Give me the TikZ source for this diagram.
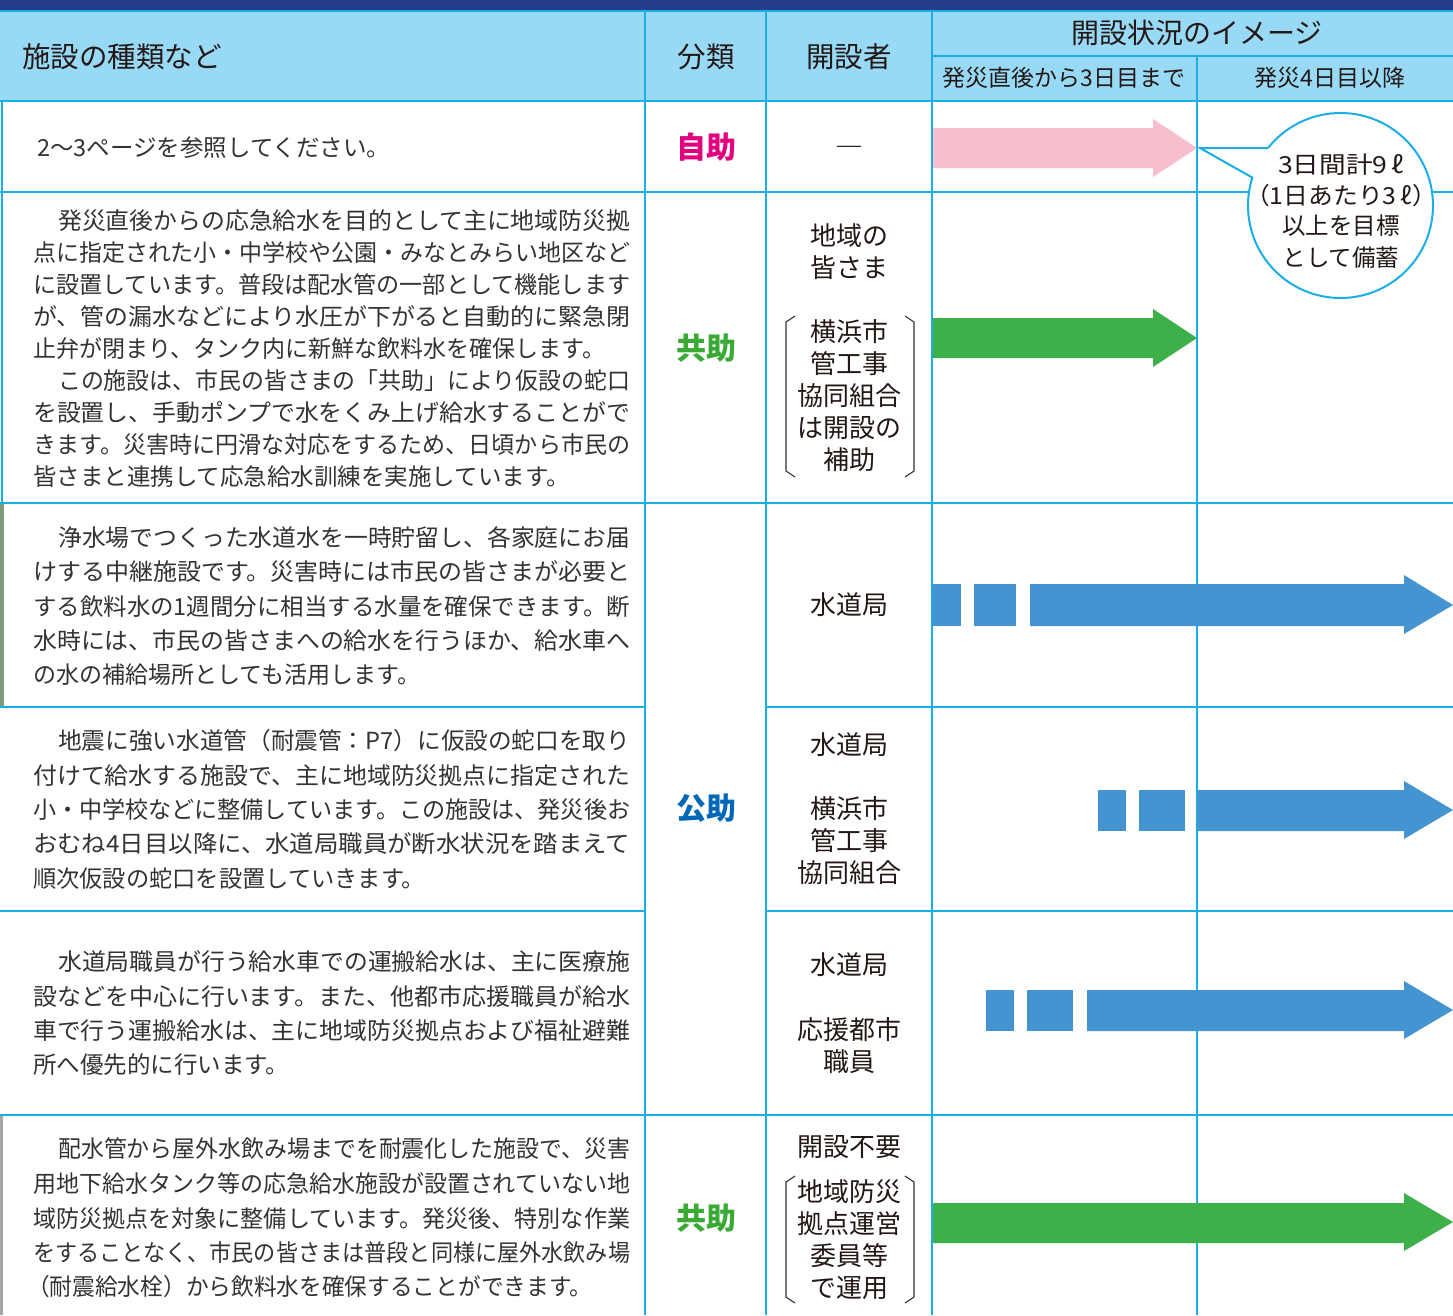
\documentclass[tikz,border=0pt]{standalone}
\usepackage{fontspec}
\setmainfont{Noto Sans CJK JP}
\usepackage{graphicx}
\definecolor{topnavy}{HTML}{243C8A}
\definecolor{hdrfill}{HTML}{98DAF6}
\definecolor{rulecol}{HTML}{1AAEE6}
\definecolor{txtcol}{HTML}{333333}
\definecolor{hdrtxt}{HTML}{231815}
\definecolor{pinkarrow}{HTML}{F7BFCD}
\definecolor{greenarrow}{HTML}{3EB049}
\definecolor{bluearrow}{HTML}{4394D0}
\definecolor{jijocol}{HTML}{E2007F}
\definecolor{kyojocol}{HTML}{3AAA35}
\definecolor{kojocol}{HTML}{0068B7}
\tikzset{
  gridline/.style={draw=rulecol, line width=2pt},
  bodytxt/.style={anchor=base west, inner sep=0pt, text=txtcol, font=\fontsize{23.5}{23.5}\selectfont},
  ctrtxt/.style={anchor=base, inner sep=0pt, text=hdrtxt},
  bracketline/.style={draw=txtcol, line width=1.1pt},
}
% full line stretched to width: name, x, centre y, width, text
\newcommand\bodyfull[5]{\node[bodytxt] (#1) at (#2,#3+9) {\resizebox{#4pt}{\height}{#5}};}
% natural line: name, x, centre y, text
\newcommand\bodynat[4]{\node[bodytxt] (#1) at (#2,#3+9) {#4};}
% centred text: name, x, centre y, size, text
\newcommand\ctxt[5]{\node[ctrtxt, font=\fontsize{#4}{#4}\selectfont] (#1) at (#2,#3+0.38*#4) {#5};}
\begin{document}
\begin{tikzpicture}[x=1pt,y=-1pt]
\useasboundingbox (0,0) rectangle (1453,1315);
\fill[white] (0,0) rectangle (1453,1315);
% top band and header
\fill[topnavy] (0,0) rectangle (1453,10.5);
\fill[hdrfill] (0,11) rectangle (1453,101);
% photo edges at the left
\fill[gray!60!green!50!black!60] (0,504) rectangle (4,706);
\fill[gray!70] (0,1116) rectangle (3,1315);
% grid
\draw[gridline] (0,11) -- (1453,11);
\draw[gridline] (0,101) -- (1453,101);
\draw[gridline] (932,56) -- (1453,56);
\draw[gridline] (645,11) -- (645,1315);
\draw[gridline] (766,11) -- (766,1315);
\draw[gridline] (932,11) -- (932,1315);
\draw[gridline] (1197,56) -- (1197,1315);
\draw[gridline] (0,192) -- (1453,192);
\draw[gridline] (0,503) -- (1453,503);
\draw[gridline] (0,707) -- (645,707);
\draw[gridline] (766,707) -- (1453,707);
\draw[gridline] (0,911) -- (645,911);
\draw[gridline] (766,911) -- (1453,911);
\draw[gridline] (0,1115) -- (1453,1115);
\draw[gridline] (2,101) -- (2,503);

% header texts
\node[anchor=base west, inner sep=0pt, text=hdrtxt, font=\fontsize{28.5}{28.5}\selectfont] (hkind) at (22,57+10.8) {施設の種類など};
\ctxt{hcls}{706}{57}{28.5}{分類}
\ctxt{hopen}{849}{57}{28.5}{開設者}
\ctxt{himg}{1197}{33}{28}{開設状況のイメージ}
\ctxt{hsub1}{1064}{78}{23}{発災直後から3日目まで}
\ctxt{hsub2}{1330}{78}{23}{発災4日目以降}

% classification
\ctxt{c1}{706}{147}{30}{\textcolor{jijocol}{\bfseries 自助}}
\ctxt{c2}{706}{348}{30}{\textcolor{kyojocol}{\bfseries 共助}}
\ctxt{c3}{706}{808}{30}{\textcolor{kojocol}{\bfseries 公助}}
\ctxt{c4}{706}{1218}{30}{\textcolor{kyojocol}{\bfseries 共助}}

% openers
\ctxt{o1}{849}{147}{28}{―}
\ctxt{o2a}{849}{236}{26}{地域の}
\ctxt{o2b}{849}{268}{26}{皆さま}
\ctxt{o2c}{849}{332}{26}{横浜市}
\ctxt{o2d}{849}{364}{26}{管工事}
\ctxt{o2e}{849}{396}{26}{協同組合}
\ctxt{o2f}{849}{428}{26}{は開設の}
\ctxt{o2g}{849}{460}{26}{補助}
\ctxt{o3}{849}{605}{26}{水道局}
\ctxt{o4a}{849}{745}{26}{水道局}
\ctxt{o4b}{849}{809}{26}{横浜市}
\ctxt{o4c}{849}{841}{26}{管工事}
\ctxt{o4d}{849}{873}{26}{協同組合}
\ctxt{o5a}{849}{965}{26}{水道局}
\ctxt{o5b}{849}{1030}{26}{応援都市}
\ctxt{o5c}{849}{1062}{26}{職員}
\ctxt{o6a}{849}{1147}{26}{開設不要}
\ctxt{o6b}{849}{1192}{26}{地域防災}
\ctxt{o6c}{849}{1224}{26}{拠点運営}
\ctxt{o6d}{849}{1256}{26}{委員等}
\ctxt{o6e}{849}{1288}{26}{で運用}
% brackets
\draw[bracketline] (795,316) -- (786,322) -- (786,471) -- (795,477);
\draw[bracketline] (905,316) -- (914,322) -- (914,471) -- (905,477);
\draw[bracketline] (795,1176) -- (786,1182) -- (786,1297) -- (795,1303);
\draw[bracketline] (905,1176) -- (914,1182) -- (914,1297) -- (905,1303);

% body texts
\bodynat{r1}{37}{147}{2〜3ページを参照してください。}

\bodyfull{r2a}{58}{220}{572}{発災直後からの応急給水を目的として主に地域防災拠}
\bodyfull{r2b}{33}{252}{597}{点に指定された小・中学校や公園・みなとみらい地区など}
\bodyfull{r2c}{33}{284}{597}{に設置しています。普段は配水管の一部として機能します}
\bodyfull{r2d}{33}{316}{597}{が、管の漏水などにより水圧が下がると自動的に緊急閉}
\bodyfull{r2e}{33}{348}{572}{止弁が閉まり、タンク内に新鮮な飲料水を確保します。}
\bodyfull{r2f}{58}{380}{572}{この施設は、市民の皆さまの「共助」により仮設の蛇口}
\bodyfull{r2g}{33}{412}{597}{を設置し、手動ポンプで水をくみ上げ給水することがで}
\bodyfull{r2h}{33}{444}{597}{きます。災害時に円滑な対応をするため、日頃から市民の}
\bodynat{r2i}{33}{476}{皆さまと連携して応急給水訓練を実施しています。}

\bodyfull{r3a}{58}{537}{572}{浄水場でつくった水道水を一時貯留し、各家庭にお届}
\bodyfull{r3b}{33}{571}{597}{けする中継施設です。災害時には市民の皆さまが必要と}
\bodyfull{r3c}{33}{606}{597}{する飲料水の1週間分に相当する水量を確保できます。断}
\bodyfull{r3d}{33}{640}{597}{水時には、市民の皆さまへの給水を行うほか、給水車へ}
\bodyfull{r3e}{33}{674}{387}{の水の補給場所としても活用します。}

\bodyfull{r4a}{58}{740}{572}{地震に強い水道管（耐震管：P7）に仮設の蛇口を取り}
\bodyfull{r4b}{33}{775}{597}{付けて給水する施設で、主に地域防災拠点に指定された}
\bodyfull{r4c}{33}{809}{597}{小・中学校などに整備しています。この施設は、発災後お}
\bodyfull{r4d}{33}{843}{597}{おむね4日目以降に、水道局職員が断水状況を踏まえて}
\bodyfull{r4e}{33}{878}{392}{順次仮設の蛇口を設置していきます。}

\bodyfull{r5a}{58}{961}{572}{水道局職員が行う給水車での運搬給水は、主に医療施}
\bodyfull{r5b}{33}{996}{597}{設などを中心に行います。また、他都市応援職員が給水}
\bodyfull{r5c}{33}{1030}{597}{車で行う運搬給水は、主に地域防災拠点および福祉避難}
\bodynat{r5d}{33}{1064}{所へ優先的に行います。}

\bodyfull{r6a}{58}{1148}{572}{配水管から屋外水飲み場までを耐震化した施設で、災害}
\bodyfull{r6b}{33}{1183}{597}{用地下給水タンク等の応急給水施設が設置されていない地}
\bodyfull{r6c}{33}{1218}{597}{域防災拠点を対象に整備しています。発災後、特別な作業}
\bodyfull{r6d}{33}{1252}{597}{をすることなく、市民の皆さまは普段と同様に屋外水飲み場}
\bodyfull{r6e}{27}{1286}{565}{（耐震給水栓）から飲料水を確保することができます。}

% arrows
\fill[pinkarrow] (933,128) -- (1153,128) -- (1153,119) -- (1197,148) -- (1153,177) -- (1153,168) -- (933,168) -- cycle;
\fill[greenarrow] (933,318) -- (1153,318) -- (1153,309) -- (1197,338) -- (1153,367) -- (1153,358) -- (933,358) -- cycle;
% row 3
\fill[bluearrow] (933,584) rectangle (961,626);
\fill[bluearrow] (974,584) rectangle (1016,626);
\fill[bluearrow] (1030,584) -- (1404,584) -- (1404,575) -- (1453,605) -- (1404,634) -- (1404,626) -- (1030,626) -- cycle;
% row 4
\fill[bluearrow] (1098,790) rectangle (1126,831);
\fill[bluearrow] (1139,790) rectangle (1185,831);
\fill[bluearrow] (1197,790) -- (1404,790) -- (1404,781) -- (1453,810) -- (1404,839) -- (1404,831) -- (1197,831) -- cycle;
% row 5
\fill[bluearrow] (986,990) rectangle (1014,1031);
\fill[bluearrow] (1027,990) rectangle (1073,1031);
\fill[bluearrow] (1087,990) -- (1404,990) -- (1404,981) -- (1453,1010) -- (1404,1039) -- (1404,1031) -- (1087,1031) -- cycle;
% row 6
\fill[greenarrow] (933,1203) -- (1404,1203) -- (1404,1193) -- (1453,1222) -- (1404,1251) -- (1404,1243) -- (933,1243) -- cycle;

% callout
\draw[draw=rulecol, fill=white, line width=2pt] (1340.5,205.5) circle (92.5pt);
\fill[white] (1200,148) -- (1268,148) -- (1285,165) -- (1253,178) -- cycle;
\draw[draw=rulecol, line width=2pt, line join=miter] (1268,148) -- (1200,148) -- (1253,178);
\ctxt{k1}{1341}{165}{23.5}{\resizebox{126pt}{\height}{3日間計9\,ℓ}}
\ctxt{k2}{1341}{196}{23.5}{\resizebox{192pt}{\height}{（1日あたり3\,ℓ）}}
\ctxt{k3}{1341}{226}{23.5}{以上を目標}
\ctxt{k4}{1341}{258}{23.5}{として備蓄}
\end{tikzpicture}
\end{document}
